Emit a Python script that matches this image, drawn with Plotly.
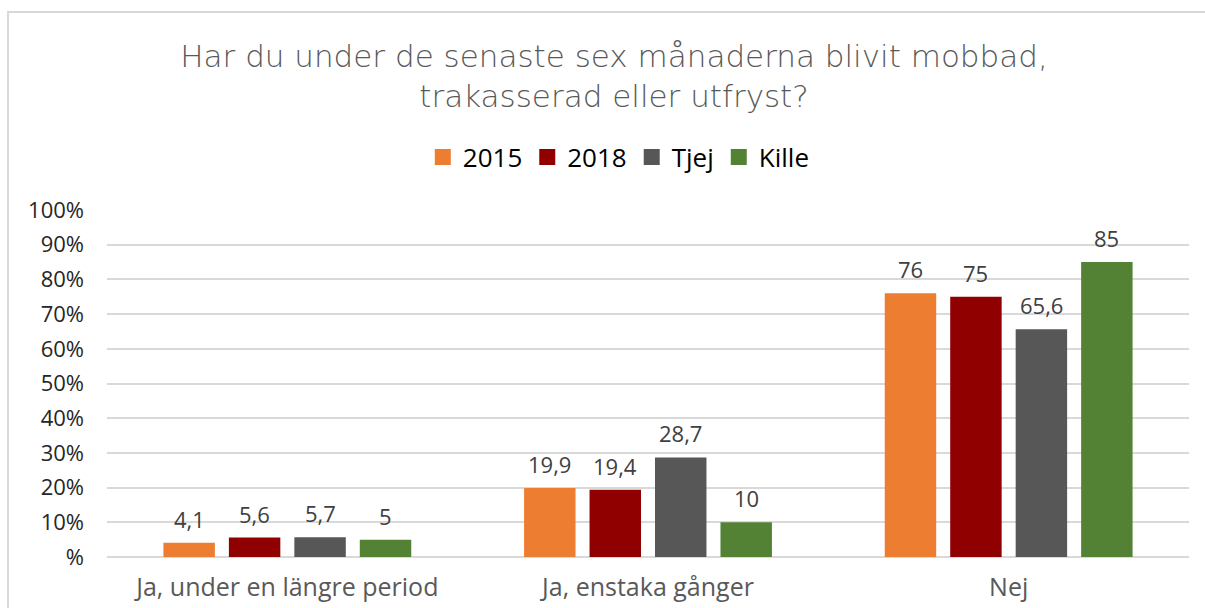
import plotly.graph_objects as go

categories = ["Ja, under en längre period", "Ja, enstaka gånger", "Nej"]
series_names = ["2015", "2018", "Tjej", "Kille"]
v2015 = [4.1, 19.9, 76]
v2018 = [5.6, 19.4, 75]
vtjej = [5.7, 28.7, 65.6]
vkille = [5, 10, 85]
colors = ["#ED7D31", "#900000", "#575757", "#548235"]
tick_vals = [0, 10, 20, 30, 40, 50, 60, 70, 80, 90, 100]
tick_text = ["%", "10%", "20%", "30%", "40%", "50%", "60%", "70%", "80%", "90%", "100%"]

FONT = "Open Sans"
BARGAP = 0.274
BARGROUPGAP = 0.214


def fmt(v):
    return ("%g" % v).replace(".", ",")


xpos = list(range(len(categories)))
all_series = [v2015, v2018, vtjej, vkille]
n = len(all_series)
slot = (1 - BARGAP) / n

fig = go.Figure()
annotations = []
for k, (name, vals, col) in enumerate(zip(series_names, all_series, colors)):
    fig.add_trace(go.Bar(
        name=name, x=xpos, y=vals, marker_color=col,
        marker_line_width=0, showlegend=False, legendgroup=name,
    ))
    off = (k - (n - 1) / 2) * slot
    for xi, v in zip(xpos, vals):
        annotations.append(dict(
            x=xi + off, y=v, xref="x", yref="y", text=fmt(v),
            showarrow=False, yanchor="bottom", yshift=7,
            font=dict(size=22, color="#404040", family=FONT),
        ))

# legend entries with larger square swatches
for name, col in zip(series_names, colors):
    fig.add_trace(go.Scatter(
        name=name, x=[None], y=[None], mode="markers", legendgroup=name,
        marker=dict(symbol="square", size=16, color=col),
        showlegend=True,
    ))

fig.update_layout(
    width=1205, height=608,
    margin=dict(l=107, r=16, t=210, b=51),
    paper_bgcolor="white", plot_bgcolor="white",
    barmode="group", bargap=BARGAP, bargroupgap=BARGROUPGAP,
    title=dict(
        text="Har du under de senaste sex månaderna blivit mobbad,<br>trakasserad eller utfryst?",
        x=614 / 1205, xanchor="center", xref="container", y=1 - 67 / 608, yanchor="middle",
        font=dict(size=31, color="#595959", family="DejaVu Sans", weight=200),
    ),
    legend=dict(
        orientation="h", x=0.473, xanchor="center", y=1 - 157 / 608, yanchor="middle",
        yref="container",
        font=dict(size=26, color="#000000", family=FONT),
        traceorder="normal",
    ),
    xaxis=dict(
        showgrid=False, showline=False, ticks="", automargin=False,
        tickvals=xpos, ticktext=categories, range=[-0.5, len(categories) - 0.5],
        tickfont=dict(size=25, color="#595959", family=FONT),
        ticklabelstandoff=13,
    ),
    yaxis=dict(
        range=[0, 100], tickvals=tick_vals, ticktext=tick_text, automargin=False,
        showgrid=True, gridcolor="#d9d9d9", gridwidth=2,
        zeroline=True, zerolinecolor="#d9d9d9", zerolinewidth=2,
        tickfont=dict(size=22, color="#262626", family=FONT),
        ticklabelstandoff=22,
    ),
    annotations=annotations,
    showlegend=True,
)

fig.add_shape(type="rect", xref="paper", yref="paper",
              x0=(8 - 107) / 1082, x1=1.2, y0=-0.5, y1=(557 - 12) / 347,
              line=dict(color="#d9d9d9", width=2), fillcolor="rgba(0,0,0,0)",
              layer="below")

fig.write_html("out.html", config={"displayModeBar": False},
               post_script="document.body.style.margin='0';document.body.style.overflow='hidden';")
